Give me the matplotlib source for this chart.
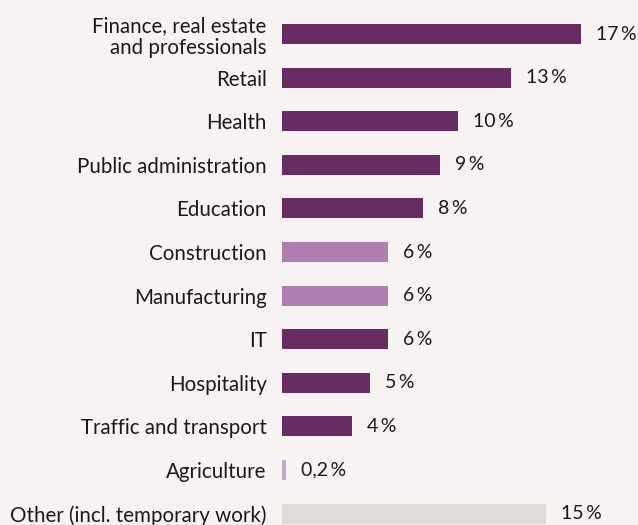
import matplotlib.pyplot as plt
from matplotlib.transforms import offset_copy

plt.rcParams['font.family'] = ['Lato', 'DejaVu Sans']

sectors = ['Finance, real estate\nand professionals', 'Retail', 'Health',
           'Public administration', 'Education', 'Construction',
           'Manufacturing', 'IT', 'Hospitality', 'Traffic and transport',
           'Agriculture', 'Other (incl. temporary work)']
shares = [17, 13, 10, 9, 8, 6, 6, 6, 5, 4, 0.2, 15]
share_labels = ['17\u2009%', '13\u2009%', '10\u2009%', '9\u2009%', '8\u2009%',
                '6\u2009%', '6\u2009%', '6\u2009%', '5\u2009%', '4\u2009%',
                '0,2\u2009%', '15\u2009%']

dark = '#682c63'
light = '#b07daf'
colors = [dark, dark, dark, dark, dark, light, light, dark, dark, dark,
          '#c9a5cb', '#dfdad6']
bg = '#f7f3f2'

fig = plt.figure(figsize=(6.38, 5.25), dpi=100, facecolor=bg)
# axes start where the bars start, runs to the right edge
ax = fig.add_axes([282 / 638, 0, 1 - 282 / 638, 1], facecolor=bg)

ypos = list(range(len(sectors)))
ax.barh(ypos, shares, height=0.46, color=colors)

ax.set_xlim(0, (638 - 282) / 17.6)
ax.set_ylim(11.26, -0.78)

ax.set_yticks(ypos)
ax.set_yticklabels(sectors, fontsize=14.8, color='#1a1a1a', linespacing=1.15)
ax.tick_params(axis='y', length=0, pad=11)
ax.set_xticks([])
for s in ax.spines.values():
    s.set_visible(False)

trans = offset_copy(ax.transData, fig=fig, x=15, y=0, units='dots')
for y, v, lab in zip(ypos, shares, share_labels):
    ax.text(v, y, lab, transform=trans, ha='left', va='center',
            fontsize=14, color='#1a1a1a')

fig.savefig('out.png', dpi=100, facecolor=bg)
